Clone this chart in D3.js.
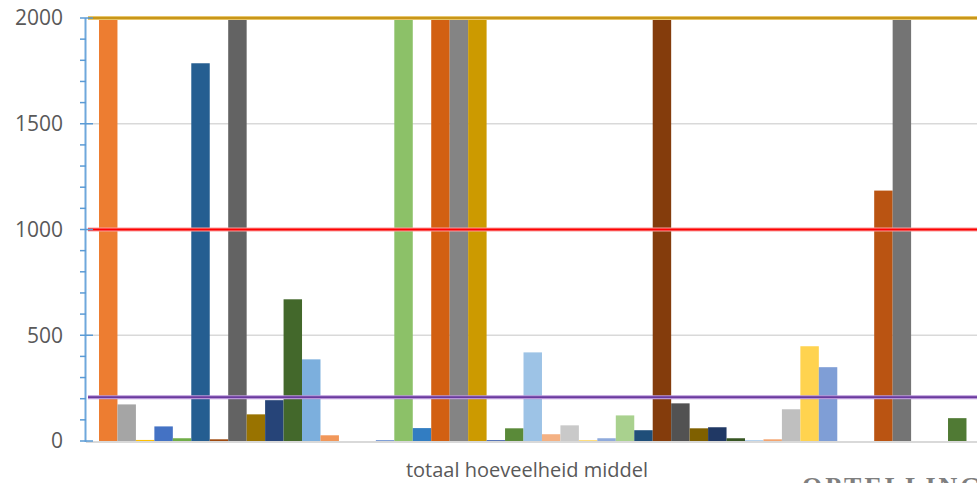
<!DOCTYPE html>
<html>
<head>
<meta charset="utf-8">
<script src="https://cdn.jsdelivr.net/npm/d3@7/dist/d3.min.js"></script>
<style>
  html, body { margin: 0; padding: 0; background: #fff; overflow: hidden; }
  svg { display: block; }
</style>
</head>
<body>
<svg id="chart" width="977" height="483"></svg>
<script>
// ---- data ----
const categories = ["totaal hoeveelheid middel"];
const seriesNames = d3.range(1, 49).map(i => "Reeks " + i);
const seriesValues = [
  2000, 173, 5, 69, 13, 1786, 8, 2000, 126, 193, 670, 386,
  27, 0, 0, 4, 2000, 61, 2000, 2000, 2000, 4, 60, 419,
  32, 74, 4, 13, 121, 51, 2000, 178, 60, 65, 13, 3,
  8, 150, 448, 349, 0, 0, 1184, 2000, 0, 0, 108, 0
];
const yTicks = [0, 500, 1000, 1500, 2000];
const refLines = [2000, 1000, 207];
const watermark = "OPTELLING";

// ---- styles ----
const palette = [
  "#ED7D31", "#A5A5A5", "#FFC000", "#4472C4", "#70AD47", "#255E91",
  "#9E480E", "#636363", "#997300", "#264478", "#43682B", "#7CAFDD",
  "#F1975A", "#B7B7B7", "#FFCD33", "#698ED0", "#8CC168", "#327DC2",
  "#D26012", "#848484", "#CC9A00", "#3A5DA8", "#5A8A39", "#9DC3E6",
  "#F4B183", "#C9C9C9", "#FFD966", "#8FAADC", "#A9D18E", "#1F4E79",
  "#843C0C", "#525252", "#7F6000", "#203864", "#375623", "#8DB9E2",
  "#F4A46F", "#BFBFBF", "#FFD34F", "#7F9ED6", "#8CC168", "#327DC2",
  "#BA5412", "#747474", "#CC9A00", "#3A5DA8", "#507A34", "#9DC3E6"
];
const refStyles = [
  { halo: "#E8C66A", core: "#C8961A" },
  { halo: "#F7A0A0", core: "#FF0000" },
  { halo: "#B996D8", core: "#6A3A9E" }
];

const W = 977, H = 483;
const svg = d3.select("#chart");

const plotLeft = 86, plotTop = 18, plotBottom = 441;
const step = 18.457;
const x = d3.scaleBand()
  .domain(seriesNames)
  .range([99, 99 + seriesNames.length * step])
  .padding(0);
const y = d3.scaleLinear().domain([0, 2000]).range([plotBottom, plotTop]).clamp(true);

// gridlines
svg.append("g")
  .selectAll("line")
  .data(yTicks.filter(d => d > 0 && d < 2000))
  .join("line")
  .attr("x1", plotLeft).attr("x2", W)
  .attr("y1", d => y(d)).attr("y2", d => y(d))
  .attr("stroke", "#D9D9D9").attr("stroke-width", 1.5);

// bars
const data = seriesNames.map((n, i) => ({ name: n, value: seriesValues[i], color: palette[i] }));
svg.append("g")
  .selectAll("rect")
  .data(data.filter(d => d.value > 0))
  .join("rect")
  .attr("x", d => x(d.name))
  .attr("width", x.bandwidth())
  .attr("y", d => y(d.value))
  .attr("height", d => y(0) - y(d.value))
  .attr("fill", d => d.color);

// baseline (category axis)
svg.append("line")
  .attr("x1", plotLeft).attr("x2", W)
  .attr("y1", y(0) + 1).attr("y2", y(0) + 1)
  .attr("stroke", "#D9D9D9").attr("stroke-width", 2.2);

// reference lines
const refG = svg.append("g");
refLines.forEach((v, i) => {
  refG.append("line")
    .attr("x1", plotLeft + 2).attr("x2", W)
    .attr("y1", y(v)).attr("y2", y(v))
    .attr("stroke", refStyles[i].halo).attr("stroke-width", 4);
  refG.append("line")
    .attr("x1", plotLeft + 2).attr("x2", W)
    .attr("y1", y(v)).attr("y2", y(v))
    .attr("stroke", refStyles[i].core).attr("stroke-width", 1.8);
});

// y axis
const axisG = svg.append("g");
axisG.append("line")
  .attr("x1", plotLeft - 0.5).attr("x2", plotLeft - 0.5)
  .attr("y1", y(2000)).attr("y2", y(0) + 1)
  .attr("stroke", "#6FA8DC").attr("stroke-width", 2);
axisG.selectAll("line.minor")
  .data(d3.range(0, 2001, 100))
  .join("line").attr("class", "minor")
  .attr("x1", plotLeft - 6)
  .attr("x2", d => d % 500 === 0 ? plotLeft + 7 : plotLeft)
  .attr("y1", d => y(d)).attr("y2", d => y(d))
  .attr("stroke", "#5B9BD5").attr("stroke-width", 1.5);
axisG.selectAll("text")
  .data(yTicks)
  .join("text")
  .attr("x", 63)
  .attr("y", d => y(d))
  .attr("dy", "0.35em")
  .attr("text-anchor", "end")
  .attr("font-family", "'Open Sans', sans-serif")
  .attr("font-size", 21)
  .attr("fill", "#595959")
  .text(d => d);

// category label
svg.append("text")
  .attr("x", 527)
  .attr("y", 477)
  .attr("text-anchor", "middle")
  .attr("font-family", "'Open Sans', sans-serif")
  .attr("font-size", 20)
  .attr("fill", "#595959")
  .text(categories[0]);

// watermark title, cut off by the bottom edge as in the reference
svg.append("text")
  .attr("x", 802)
  .attr("y", 495)
  .attr("font-family", "'Liberation Serif', 'DejaVu Serif', serif")
  .attr("font-weight", "bold")
  .attr("font-size", 26)
  .attr("letter-spacing", 3)
  .attr("fill", "#7F7F7F")
  .text(watermark);
</script>
</body>
</html>
